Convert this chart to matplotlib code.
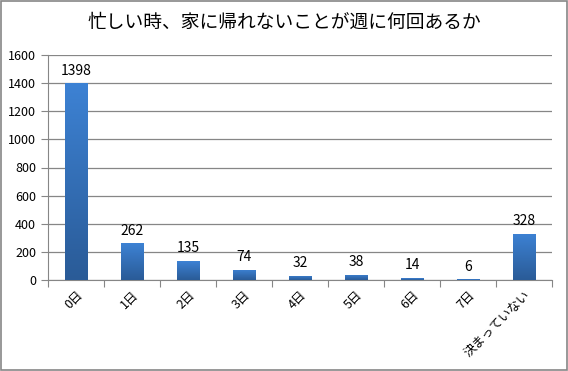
import numpy as np
import matplotlib.pyplot as plt
from matplotlib.colors import LinearSegmentedColormap

plt.rcParams['font.family'] = ['Noto Sans CJK JP', 'DejaVu Sans']

categories = ['0日', '1日', '2日', '3日', '4日', '5日', '6日', '7日', '決まっていない']
values = [1398, 262, 135, 74, 32, 38, 14, 6, 328]

fig = plt.figure(figsize=(5.68, 3.71), dpi=100)
ax = fig.add_axes([48/568, 1 - 280/371, 504/568, 225/371])

x = np.arange(len(categories))
bars = ax.bar(x, values, width=0.4, color='#3474c0', zorder=2)

# excel-like vertical gradient on each bar
cmap = LinearSegmentedColormap.from_list('g', ['#2a5b97', '#3d82d4'])
grad = np.linspace(0, 1, 256).reshape(-1, 1)
for b in bars:
    bx, by = b.get_x(), b.get_y()
    w, h = b.get_width(), b.get_height()
    if h <= 0:
        continue
    im = ax.imshow(grad, cmap=cmap, aspect='auto', origin='lower',
                   extent=[bx, bx + w, by, by + h], zorder=3)
    im.set_clip_path(b)

ax.set_xlim(-0.5, len(categories) - 0.5)
ax.set_ylim(0, 1600)
ax.set_yticks(np.arange(0, 1601, 200))
ax.yaxis.grid(True, color='#868686', linewidth=0.9, zorder=0)
ax.set_axisbelow(True)

for xi, v in zip(x, values):
    ax.text(xi, v + 40, str(v), ha='center', va='bottom', fontsize=10, zorder=4)

ax.set_xticks(np.arange(-0.5, len(categories), 1), minor=False)
ax.set_xticklabels([])
ax.set_xticks(x, minor=True)
ax.set_xticklabels(categories, minor=True, rotation=45, ha='right',
                   rotation_mode='anchor', fontsize=9)
ax.tick_params(axis='x', which='minor', length=0, pad=6)
ax.tick_params(axis='x', which='major', length=5, color='#868686', direction='out')
ax.tick_params(axis='y', length=5, color='#868686', labelsize=9)

for s in ['top', 'right']:
    ax.spines[s].set_visible(False)
ax.spines['left'].set_color('#868686')
ax.spines['bottom'].set_color('#868686')

ax.set_xlim(-0.5, len(categories) - 0.5)

fig.text(0.5, 1 - 22/371, '忙しい時、家に帰れないことが週に何回あるか',
         ha='center', va='center', fontsize=13.5)

fig.patches.append(plt.Rectangle((0.001, 0.002), 0.997, 0.996, transform=fig.transFigure,
                                 fill=False, edgecolor='#868686', linewidth=1.2))

fig.savefig('out.png', dpi=100)
